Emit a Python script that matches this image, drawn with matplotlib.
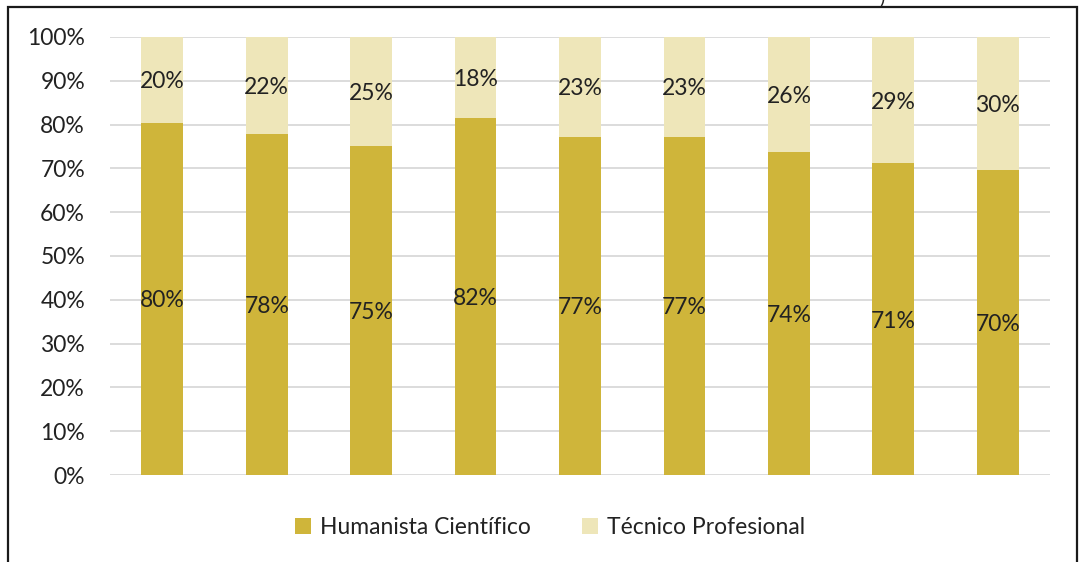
import numpy as np
import matplotlib.pyplot as plt
from matplotlib.patches import Rectangle

plt.rcParams['font.family'] = ['Lato', 'DejaVu Sans']

humanista = [80.4, 77.8, 75.1, 81.6, 77.2, 77.2, 73.7, 71.2, 69.6]
tecnico = [100 - v for v in humanista]
hum_labels = ['80%', '78%', '75%', '82%', '77%', '77%', '74%', '71%', '70%']
tec_labels = ['20%', '22%', '25%', '18%', '23%', '23%', '26%', '29%', '30%']

c_hum = '#CFB53A'
c_tec = '#EEE6B9'
txt = '#222222'
fs = 16.5

fig = plt.figure(figsize=(10.83, 5.62), dpi=100)
ax = fig.add_axes([0.1016, 0.1548, 0.8679, 0.7794])

x = np.arange(len(humanista))
b1 = ax.bar(x, humanista, width=0.4, color=c_hum, label='Humanista Científico', zorder=2)
b2 = ax.bar(x, tecnico, width=0.4, bottom=humanista, color=c_tec, label='Técnico Profesional', zorder=2)

for i in range(len(x)):
    ax.text(x[i], humanista[i] / 2, hum_labels[i], ha='center', va='center_baseline',
            fontsize=fs, color=txt, zorder=3)
    ax.text(x[i], humanista[i] + tecnico[i] / 2, tec_labels[i], ha='center',
            va='center_baseline', fontsize=fs, color=txt, zorder=3)

ax.set_xlim(-0.5, 8.5)
ax.set_ylim(0, 100)
ax.set_yticks(range(0, 101, 10))
ax.set_yticklabels([f'{v}%' for v in range(0, 101, 10)], fontsize=fs, color=txt)
ax.set_xticks([])
ax.grid(axis='y', color='#d9d9d9', linewidth=1.3, zorder=0)
for s in ax.spines.values():
    s.set_visible(False)
ax.tick_params(axis='y', length=0, pad=18)

fig.legend(handles=[b1, b2], loc='center', bbox_to_anchor=(0.508, 0.062), ncol=2,
           frameon=False, prop={'size': fs}, handlelength=0.7,
           handleheight=0.7, handletextpad=0.4, columnspacing=2.2, labelcolor=txt)

fig.patches.append(Rectangle((8 / 1083, -0.05), 1069 / 1083, 1.05 - 7 / 562,
                             transform=fig.transFigure, fill=False,
                             edgecolor='#1a1a1a', linewidth=1.6))
fig.text(0.812, 1.005, ')', fontsize=14, color=txt, va='center')

fig.savefig('out.png', dpi=100)
